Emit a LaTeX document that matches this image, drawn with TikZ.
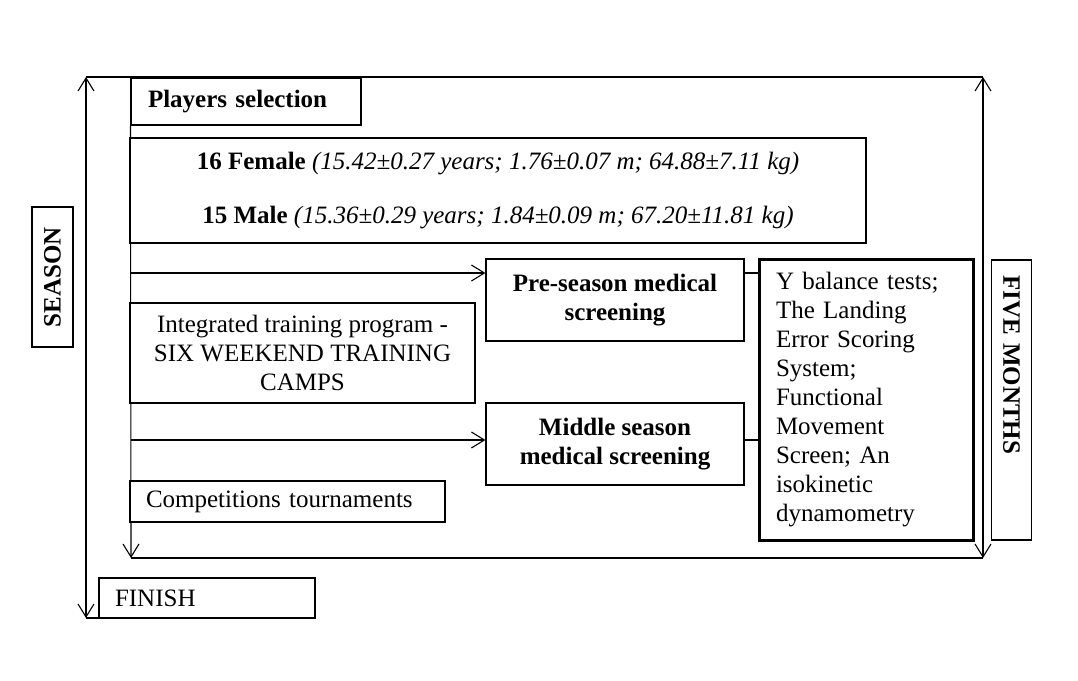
\documentclass[tikz,border=0pt]{standalone}
\usepackage{fontspec}
\setmainfont{Liberation Serif}
\usetikzlibrary{arrows.meta}
\begin{document}
\begin{tikzpicture}[x=1pt,y=-1pt,
  every node/.style={font=\fontsize{25}{29}\selectfont},
  box/.style={draw, fill=white, line width=1.1pt, inner sep=0pt, align=center},
  lbox/.style={box, align=left},
  line/.style={line width=1.1pt},
  arr/.style={line, -{Straight Barb[length=13pt,width=16pt]}},
  darr/.style={line, {Straight Barb[length=13pt,width=16pt]}-{Straight Barb[length=13pt,width=16pt]}}]
\useasboundingbox (0,0) rectangle (1078,680);
% frame coordinates
\coordinate (tl) at (86,77);
\coordinate (tr) at (983,77);
\coordinate (bl) at (86,618);
\coordinate (br) at (983,558);
\coordinate (ib) at (131,558);
\coordinate (a1) at (131,273);
\coordinate (a2) at (131,440);
% frame
\draw[darr] (tl) -- (bl);
\draw[line] (tl) -- (tr);
\draw[darr] (tr) -- (br);
\draw[line] (ib) -- (br);
\draw[line] (bl) -- (bl -| ib);
% nodes
\node[lbox, minimum width=230pt, minimum height=47pt, text width=196pt, inner xsep=17pt] (players) at (246,101.5) {\textbf{Players selection}};
\draw[arr] (players.south west) -- (ib);
\node[box, minimum width=736pt, minimum height=105pt] (female) at (498,190.5)
  {\textbf{16 Female} \textit{(15.42±0.27 years; 1.76±0.07 m; 64.88±7.11 kg)}\\[25pt]
   \textbf{15 Male} \textit{(15.36±0.29 years; 1.84±0.09 m; 67.20±11.81 kg)}};
\node[box, minimum width=258pt, minimum height=82pt] (pre) at (615,300) {\textbf{Pre-season medical}\\\textbf{screening}};
\node[box, minimum width=345pt, minimum height=100pt] (integ) at (302.5,353) {Integrated training program -\\SIX WEEKEND TRAINING\\CAMPS};
\node[box, minimum width=258pt, minimum height=82pt] (middle) at (615,444) {\textbf{Middle season}\\\textbf{medical screening}};
\node[lbox, minimum width=315pt, minimum height=41pt, text width=283pt, inner xsep=16pt] (comp) at (287.5,501.5) {Competitions tournaments};
\node[lbox, line width=3pt, minimum width=214pt, minimum height=281pt, text width=180pt, inner xsep=17pt] (ybox) at (866,399.5)
  {Y balance tests;\\The Landing\\Error Scoring\\System;\\Functional\\Movement\\Screen; An\\isokinetic\\dynamometry};
\node[lbox, minimum width=216pt, minimum height=40pt, text width=184pt, inner xsep=16pt] (finish) at (207,598) {FINISH};
\node[box, rotate=90, minimum width=140pt, minimum height=41pt] (season) at (52.5,277) {\textbf{SEASON}};
\node[lbox, rotate=-90, minimum height=40pt, text width=250pt, inner xsep=15pt] (five) at (1011.5,400) {\textbf{FIVE MONTHS}};
% arrows
\draw[arr] (a1) -- (pre.west |- a1);
\draw[arr] (a2) -- (middle.west |- a2);
\draw[line] (pre.east |- a1) -- (ybox.west |- a1);
\draw[line] (middle.east |- a2) -- (ybox.west |- a2);
\end{tikzpicture}
\end{document}
